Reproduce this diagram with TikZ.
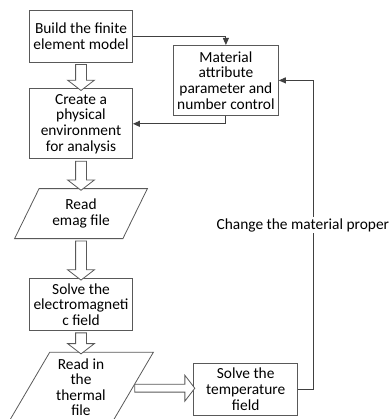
\documentclass[tikz,border=0pt]{standalone}
\usepackage{fontspec}
\setmainfont{Carlito}
\usetikzlibrary{calc,shapes.geometric,shapes.arrows,arrows.meta}
\usetikzlibrary{positioning}

\begin{document}
\begin{tikzpicture}[x=1pt,y=-1pt,
    box/.style={rectangle,draw=black!65,line width=0.8pt,align=center,minimum width=103pt,minimum height=52pt,inner sep=1pt},
    io/.style={trapezium,trapezium left angle=60,trapezium right angle=120,trapezium stretches=true,draw=black!65,line width=0.8pt,align=center,minimum width=134pt,minimum height=50pt,inner sep=0pt},
    bigarrow/.style={single arrow,draw=black!65,fill=white,line width=0.8pt,minimum width=26pt,single arrow head extend=8pt,single arrow tip angle=105,inner xsep=0pt,inner ysep=5pt},
    link/.style={draw=black!75,line width=0.9pt,-{Triangle[length=7pt,width=6pt]}},
    every node/.style={font=\fontsize{15.4}{15.7}\selectfont}
    ]
    \useasboundingbox (0,0) rectangle (390,419);

    % main column
    \node[box] (build) at (81,36) {Build the finite\\element model};
    \node[box,minimum height=70pt,below=26pt of build] (create) {Create a\\physical\\environment\\for analysis};
    \node[io,below=29pt of create] (emag) {Read\\emag file};
    \node[box,below=39pt of emag] (solve) {Solve the\\electromagneti\\c field};
    \node[io,minimum width=145pt,minimum height=70pt,below=21pt of solve,font=\fontsize{15.4}{15.2}\selectfont] (thermal) {Read in\\the\\thermal\\file};
    % right side
    \node[box,minimum width=104pt,right=60pt of thermal,yshift=-2pt] (temp) {Solve the\\temperature\\field};
    \node[box,minimum width=105pt,minimum height=70pt,anchor=north west] (material) at (173,45) {Material\\attribute\\parameter and\\number control};

    % hollow arrows between the steps
    \node[bigarrow,rotate=-90,minimum height=26pt] (a1) at ($(build.south)!0.5!(create.north)$) {};
    \node[bigarrow,rotate=-90,minimum height=29pt] (a2) at ($(create.south)!0.5!(emag.north)$) {};
    \node[bigarrow,rotate=-90,minimum height=39pt] (a3) at ($(emag.south)!0.5!(solve.north)$) {};
    \node[bigarrow,rotate=-90,minimum height=21pt] (a4) at ($(solve.south)!0.5!(thermal.north)$) {};
    \node[bigarrow,minimum height=60pt,minimum width=25pt,single arrow head extend=9pt,inner ysep=3.5pt] (a5) at ($(thermal.east)!0.5!(temp.west)$) {};

    % feedback lines
    \draw[link] (build.east) -| (material.north);
    \draw[link] (material.south) |- (create.east);
    \draw[link] (temp.east) -- ++(15,0) coordinate (turn) |- (material.east);
    \node[fill=white,inner sep=1.5pt,anchor=west] (change) at (215,225) {Change the material proper};

\end{tikzpicture}
\end{document}
